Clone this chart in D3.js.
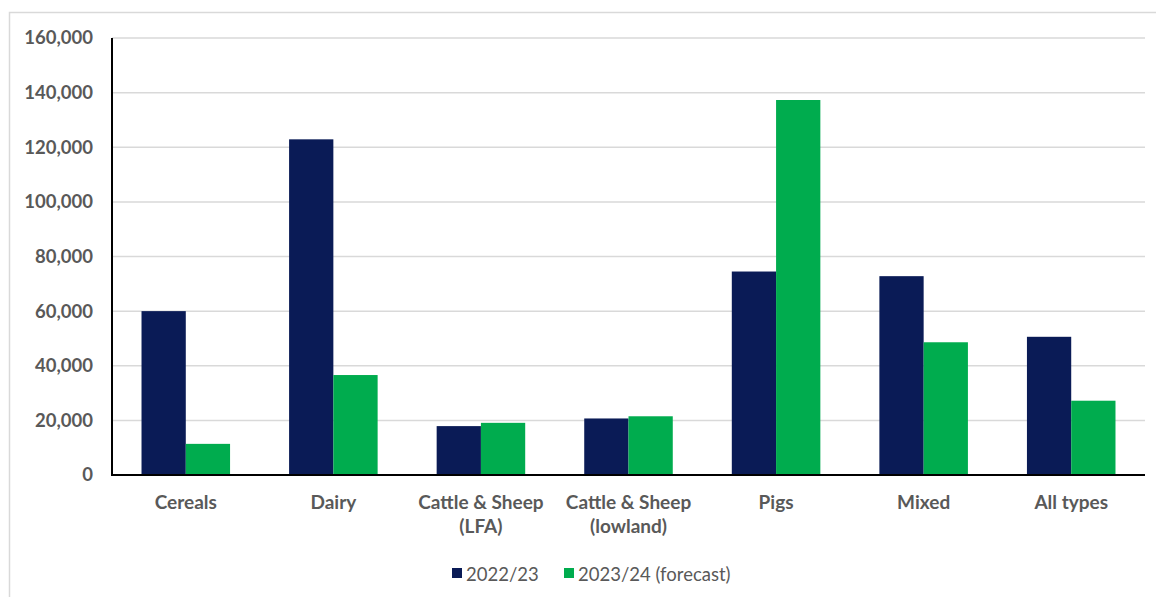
<!DOCTYPE html>
<html>
<head>
<meta charset="utf-8">
<script src="https://cdn.jsdelivr.net/npm/d3@7"></script>
<style>
    body { margin: 0; background: #fff; }
    #chart { width: 1156px; height: 597px; }
    text { font-family: Lato, "Open Sans", sans-serif; }
</style>
</head>
<body>
<div id="chart"></div>
<script>
// farm types and average income per farm
let categories = [["Cereals"], ["Dairy"], ["Cattle & Sheep", "(LFA)"], ["Cattle & Sheep", "(lowland)"], ["Pigs"], ["Mixed"], ["All types"]];
let seriesNames = ["2022/23", "2023/24 (forecast)"];
let values2223 = [60000, 122900, 17900, 20700, 74500, 72800, 50600];
let values2324 = [11400, 36600, 19100, 21500, 137300, 48600, 27200];
let yTicks = [0, 20000, 40000, 60000, 80000, 100000, 120000, 140000, 160000];

let colors = ["#0a1b56", "#00ac4e"];

let margin = {top: 38, right: 11, bottom: 122, left: 112};
let width = 1156 - margin.left - margin.right;
let height = 597 - margin.top - margin.bottom;

let root = d3.select("#chart").append("svg")
    .attr("width", 1156)
    .attr("height", 597);

// outer frame
root.append("rect")
    .attr("x", 9.5).attr("y", 12.5)
    .attr("width", 1170).attr("height", 620)
    .attr("fill", "none")
    .attr("stroke", "#d9d9d9")
    .attr("stroke-width", 1.5);

let svg = root.append("g")
    .attr("transform", `translate(${margin.left}, ${margin.top})`);

let x = d3.scaleBand()
    .domain(d3.range(categories.length))
    .range([0, width])
    .paddingInner(0)
    .paddingOuter(0);

let inner = d3.scaleBand()
    .domain([0, 1])
    .range([x.bandwidth() * 0.2, x.bandwidth() * 0.8]);

let y = d3.scaleLinear()
    .domain([0, 160000])
    .range([height, 0]);

// gridlines
svg.append("g")
    .selectAll("line")
    .data(yTicks.slice(1))
    .enter()
    .append("line")
    .attr("x1", 0).attr("x2", width)
    .attr("y1", d => y(d)).attr("y2", d => y(d))
    .attr("stroke", "#d9d9d9")
    .attr("stroke-width", 1.5);

// y axis labels
let yAxis = svg.append("g")
    .call(d3.axisLeft(y).tickValues(yTicks).tickFormat(d3.format(",")).tickSize(0).tickPadding(19));
yAxis.select(".domain").remove();
yAxis.selectAll("text")
    .attr("fill", "#595959")
    .style("font-size", "18.5px")
    .style("font-weight", "bold");

// bars
let series = [values2223, values2324];
series.forEach((vals, s) => {
    svg.append("g")
        .selectAll("rect")
        .data(vals)
        .enter()
        .append("rect")
        .attr("x", (d, i) => x(i) + inner(s))
        .attr("y", d => y(d))
        .attr("width", inner.bandwidth())
        .attr("height", d => height - y(d))
        .attr("fill", colors[s]);
});

// axes lines
svg.append("line")
    .attr("x1", 0).attr("x2", 0)
    .attr("y1", 0).attr("y2", height)
    .attr("stroke", "#000").attr("stroke-width", 2);
svg.append("line")
    .attr("x1", -1).attr("x2", width)
    .attr("y1", height).attr("y2", height)
    .attr("stroke", "#000").attr("stroke-width", 2);

// category labels
let catLabels = svg.append("g")
    .selectAll("text")
    .data(categories)
    .enter()
    .append("text")
    .attr("x", (d, i) => x(i) + x.bandwidth() / 2)
    .attr("y", height + 34)
    .attr("text-anchor", "middle")
    .attr("fill", "#595959")
    .style("font-size", "19px")
    .style("font-weight", "bold");

catLabels.selectAll("tspan")
    .data(d => d)
    .enter()
    .append("tspan")
    .attr("x", function() { return d3.select(this.parentNode).attr("x"); })
    .attr("dy", (d, i) => i === 0 ? 0 : 24)
    .text(d => d);

// legend
let legend = root.append("g");
let legendX = [452, 564];
seriesNames.forEach((name, s) => {
    legend.append("rect")
        .attr("x", legendX[s]).attr("y", 568)
        .attr("width", 10).attr("height", 10)
        .attr("fill", colors[s]);
    legend.append("text")
        .attr("x", legendX[s] + 14).attr("y", 581)
        .attr("fill", "#595959")
        .style("font-size", "18.5px")
        .text(name);
});
</script>
</body>
</html>
